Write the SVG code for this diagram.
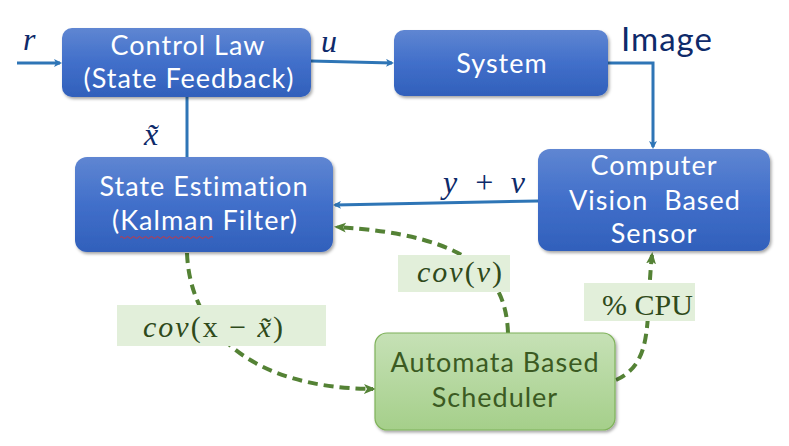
<svg xmlns="http://www.w3.org/2000/svg" width="789" height="446" viewBox="0 0 789 446">
<defs>
<linearGradient id="gb" x1="0" y1="0" x2="0" y2="1">
<stop offset="0" stop-color="#5f86d2"/>
<stop offset="0.5" stop-color="#416fca"/>
<stop offset="1" stop-color="#3160bb"/>
</linearGradient>
<linearGradient id="gg" x1="0" y1="0" x2="0" y2="1">
<stop offset="0" stop-color="#c6e1b6"/>
<stop offset="1" stop-color="#a5cf8a"/>
</linearGradient>
<filter id="sh" x="-10%" y="-10%" width="130%" height="130%">
<feDropShadow dx="1.5" dy="2" stdDeviation="1.5" flood-color="#000" flood-opacity="0.35"/>
</filter>
<marker id="ab" markerWidth="8" markerHeight="8" refX="6" refY="4" orient="auto" markerUnits="userSpaceOnUse" viewBox="0 0 8 8">
<path d="M0,0 L8,4 L0,8 L2,4 Z" fill="#2e75b6"/>
</marker>
<marker id="ag" markerWidth="12" markerHeight="12" refX="9" refY="6" orient="auto" markerUnits="userSpaceOnUse" viewBox="0 0 12 12">
<path d="M0,1 L12,6 L0,11 L3,6 Z" fill="#548235"/>
</marker>
</defs>
<style>
.box{fill:url(#gb);filter:url(#sh)}
.gbox{fill:url(#gg);stroke:#7fb25a;stroke-width:1.2;filter:url(#sh)}
.t{font-family:Lato,"Open Sans","Liberation Sans",sans-serif;font-size:27px;letter-spacing:1px;fill:#ffffff;text-anchor:middle}
.tg{font-family:Lato,"Open Sans","Liberation Sans",sans-serif;font-size:27px;letter-spacing:1px;fill:#3b5a22;text-anchor:middle}
.m{font-family:"Liberation Serif","DejaVu Serif",serif;font-style:italic;font-size:32px;fill:#0e2a6a}
.gl{font-family:"Liberation Serif","DejaVu Serif",serif;font-size:30px;fill:#2f4a1a}
.lb{fill:#e2efda}
.bl{stroke:#2e75b6;stroke-width:3;fill:none}
.gd{stroke:#548235;stroke-width:4;fill:none;stroke-dasharray:10 6}
</style>

<g id="connectors">
<line class="bl" x1="17" y1="63" x2="60" y2="63" marker-end="url(#ab)"/>
<line class="bl" x1="311" y1="61" x2="392" y2="63" marker-end="url(#ab)"/>
<polyline class="bl" points="608,63 653,63 653,147" marker-end="url(#ab)"/>
<line class="bl" x1="538" y1="201" x2="335" y2="205" marker-end="url(#ab)"/>
<line class="bl" x1="187" y1="157" x2="187" y2="89" marker-end="url(#ab)"/>
<path class="gd" d="M508,333 C506,275 470,235 337,227" marker-end="url(#ag)"/>
<path class="gd" d="M187,253 C190,330 250,388 373,389" marker-end="url(#ag)"/>
<path class="gd" d="M616,380 C655,362 645,320 652,255" marker-end="url(#ag)"/>
</g>

<g id="control-law">
<rect class="box" x="62" y="28" width="249" height="69" rx="10"/>
<text class="t" x="188" y="55">Control Law</text>
<text class="t" x="189" y="88">(State Feedback)</text>
</g>

<g id="system">
<rect class="box" x="394" y="30" width="214" height="66" rx="10"/>
<text class="t" x="502" y="73">System</text>
</g>

<g id="state-estimation">
<rect class="box" x="75" y="157" width="258" height="95" rx="12"/>
<text class="t" x="204" y="196">State Estimation</text>
<text class="t" x="205" y="230">(Kalman Filter)</text>
<path d="M120,237.5 q1.5,-2 3,0 t3,0 t3,0 t3,0 t3,0 t3,0 t3,0 t3,0 t3,0 t3,0 t3,0 t3,0 t3,0 t3,0 t3,0 t3,0 t3,0 t3,0 t3,0 t3,0 t3,0 t3,0 t3,0 t3,0 t3,0 t3,0 t3,0 t3,0 t3,0 t3,0 t3,0" stroke="#e03030" stroke-width="0.9" fill="none"/>
</g>

<g id="cv-sensor">
<rect class="box" x="538" y="149" width="232" height="102" rx="12"/>
<text class="t" x="654" y="175">Computer</text>
<text class="t" x="655" y="210" xml:space="preserve">Vision  Based</text>
<text class="t" x="654" y="243">Sensor</text>
</g>

<g id="scheduler">
<rect class="gbox" x="375" y="333" width="240" height="97" rx="12"/>
<text class="tg" x="495" y="372">Automata Based</text>
<text class="tg" x="495" y="407">Scheduler</text>
</g>

<g id="labels">
<text class="m" x="23" y="50">r</text>
<text class="m" x="321" y="52">u</text>
<text x="621" y="51" style="font-family:Lato,'Open Sans','Liberation Sans',sans-serif;font-size:33px;letter-spacing:1px;fill:#0e2a6a">Image</text>
<text class="m" x="144" y="145">x̃</text>
<text class="m" x="443" y="193" xml:space="preserve">y  +  v</text>
<rect class="lb" x="398" y="255" width="112" height="37"/>
<text class="gl" x="417" y="282" letter-spacing="2"><tspan font-style="italic">cov</tspan>(<tspan font-style="italic">v</tspan>)</text>
<rect class="lb" x="117" y="305" width="209" height="41"/>
<text class="gl" x="143" y="337" letter-spacing="2" xml:space="preserve"><tspan font-style="italic">cov</tspan>(x − <tspan font-style="italic">x̃</tspan>)</text>
<rect class="lb" x="584" y="283" width="111" height="38"/>
<text class="gl" x="602" y="315">% CPU</text>
</g>
</svg>
